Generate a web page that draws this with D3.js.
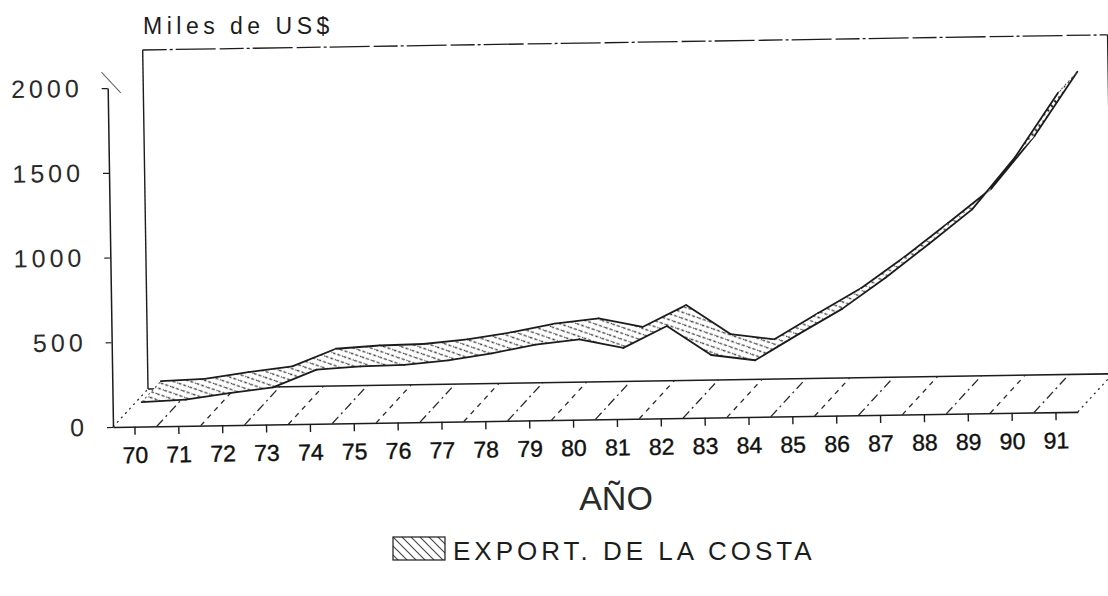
<!DOCTYPE html>
<html>
<head>
<meta charset="utf-8">
<script src="https://cdn.jsdelivr.net/npm/d3@7"></script>
<style>
  body { margin: 0; background: #fff; }
  svg { display: block; }
  text { font-family: "Liberation Sans", Arial, sans-serif; fill: #1c1c1c; }
</style>
</head>
<body>
<svg id="chart" width="1108" height="596"></svg>
<script>
var years = ["70", "71", "72", "73", "74", "75", "76", "77", "78", "79", "80",
             "81", "82", "83", "84", "85", "86", "87", "88", "89", "90", "91"];
var exportsCosta = [100, 110, 145, 175, 275, 290, 295, 318, 355, 403, 430,
                    375, 500, 325, 290, 440, 585, 765, 960, 1160, 1465, 1840];
var yTicks = [0, 500, 1000, 1500, 2000];
var yTitle = "Miles de US$";
var xTitle = "AÑO";
var seriesName = "EXPORT. DE LA COSTA";

var ink = "#1c1c1c";
var origin = { x: 113, y: 427 },
    depth = { x: 35.6, y: -37.5 },   // oblique offset of the back wall
    tilt = -0.9,                      // the whole plot is slightly turned
    ribbonFront = 0.2,
    ribbonBack = 0.75;

var svg = d3.select("#chart");
var defs = svg.append("defs");

// hatch for the ribbon top face
var pTop = defs.append("pattern")
    .attr("id", "hatchTop")
    .attr("patternUnits", "userSpaceOnUse")
    .attr("width", 8).attr("height", 8);
pTop.append("rect").attr("width", 8).attr("height", 8).attr("fill", "#fff");
pTop.append("path").attr("d", "M-1,-1L9,9M-1,7L1,9M7,-1L9,1")
    .attr("stroke", "#1a1a1a").attr("stroke-width", 1.8).attr("stroke-dasharray", "4,2");

// hatch for the underside (seen where the ribbon folds down)
var pUnder = defs.append("pattern")
    .attr("id", "hatchUnder")
    .attr("patternUnits", "userSpaceOnUse")
    .attr("width", 8).attr("height", 8)
    .attr("patternTransform", "rotate(-25)");
pUnder.append("rect").attr("width", 8).attr("height", 8).attr("fill", "#fff");
pUnder.append("path").attr("d", "M0,0L8,8")
    .attr("stroke", "#333").attr("stroke-width", 1.3).attr("stroke-dasharray", "3,2");

// legend hatch
var pLeg = defs.append("pattern")
    .attr("id", "hatchLegend")
    .attr("patternUnits", "userSpaceOnUse")
    .attr("width", 9).attr("height", 9);
pLeg.append("rect").attr("width", 9).attr("height", 9).attr("fill", "#fff");
pLeg.append("path").attr("d", "M-1,-1L10,10M-1,8L1,10M8,-1L10,1")
    .attr("stroke", "#444").attr("stroke-width", 1.1);

var x = d3.scaleBand().domain(years).range([origin.x, 1078]);
var y = d3.scaleLinear().domain([0, 2000]).range([origin.y, 88]);

function cx(yr) { return x(yr) + x.bandwidth() / 2; }
function px(yr, t) { return cx(yr) + t * depth.x; }
function py(v, t) { return y(v) + t * depth.y; }

var g = svg.append("g")
    .attr("transform", "rotate(" + tilt + "," + origin.x + "," + origin.y + ")");

var x0 = x.range()[0], x1 = x.range()[1];
var y0 = y(0);

// floor
var floor = g.append("g").attr("class", "floor");
floor.append("line")
    .attr("x1", x0 + depth.x).attr("y1", y0 + depth.y)
    .attr("x2", x1 + depth.x).attr("y2", y0 + depth.y)
    .attr("stroke", ink).attr("stroke-width", 1.6);
var bounds = years.map(function (d) { return x(d); }).concat([x1]);
floor.selectAll(".depthline")
    .data(bounds)
    .enter()
    .append("line")
    .attr("class", "depthline")
    .attr("x1", function (d) { return d; })
    .attr("y1", y0)
    .attr("x2", function (d) { return d + depth.x; })
    .attr("y2", y0 + depth.y)
    .attr("stroke", "#2a2a2a")
    .attr("stroke-width", 1.3)
    .attr("stroke-dasharray", function (d, i) {
        if (i === 0 || i === bounds.length - 1) return "2,4";
        return i % 2 ? "9,4,2,4" : "5,5";
    });

// back wall
var wall = g.append("g").attr("class", "wall");
var wTop = y(2000) + depth.y;
wall.append("line")
    .attr("x1", x0 + depth.x).attr("y1", y0 + depth.y)
    .attr("x2", x0 + depth.x).attr("y2", wTop)
    .attr("stroke", ink).attr("stroke-width", 1.4);
wall.append("line")
    .attr("x1", x0 + depth.x).attr("y1", wTop)
    .attr("x2", x1 + depth.x).attr("y2", wTop)
    .attr("stroke", ink).attr("stroke-width", 1.3)
    .attr("stroke-dasharray", "24,3,3,3,40,4");
wall.append("line")
    .attr("x1", x1 + depth.x).attr("y1", wTop)
    .attr("x2", x1 + depth.x).attr("y2", y0 + depth.y)
    .attr("stroke", ink).attr("stroke-width", 1.4);

// axes
var yAxis = d3.axisLeft(y).tickValues(yTicks).tickFormat(d3.format("d"))
    .tickSize(6).tickSizeOuter(0);
var yg = g.append("g")
    .attr("class", "y axis")
    .attr("transform", "translate(" + x0 + ",0)")
    .call(yAxis);
yg.select(".domain").attr("stroke", ink).attr("stroke-width", 1.5);
yg.selectAll(".tick line").attr("stroke", ink).attr("stroke-width", 1.2);
yg.selectAll(".tick text")
    .attr("x", -25)
    .style("font-size", "25px")
    .style("letter-spacing", "4px")
    .style("fill", "#2a2a2a");
yg.append("line")
    .attr("x1", -6).attr("y1", y(2000) - 16)
    .attr("x2", 13).attr("y2", y(2000) + 5)
    .attr("stroke", "#666").attr("stroke-width", 1);

var xAxis = d3.axisBottom(x).tickSize(8).tickSizeOuter(0);
var xg = g.append("g")
    .attr("class", "x axis")
    .attr("transform", "translate(0," + y0 + ")")
    .call(xAxis);
xg.select(".domain").attr("stroke", ink).attr("stroke-width", 1.6);
xg.selectAll(".tick line").attr("stroke", ink).attr("stroke-width", 1.4);
xg.selectAll(".tick text")
    .attr("y", 20)
    .style("font-size", "23px")
    .style("fill", "#111")
    .style("stroke", "#111")
    .style("stroke-width", "0.4px");

// ribbon
var ribbon = g.append("g").attr("class", "ribbon");
for (var i = 0; i < years.length - 1; i++) {
    var f0 = [px(years[i], ribbonFront), py(exportsCosta[i], ribbonFront)],
        f1 = [px(years[i + 1], ribbonFront), py(exportsCosta[i + 1], ribbonFront)],
        b1 = [px(years[i + 1], ribbonBack), py(exportsCosta[i + 1], ribbonBack)],
        b0 = [px(years[i], ribbonBack), py(exportsCosta[i], ribbonBack)];
    var area = d3.polygonArea([f0, f1, b1, b0]);
    ribbon.append("path")
        .attr("d", "M" + [f0, f1, b1, b0].join("L") + "Z")
        .attr("fill", area < 0 ? "url(#hatchTop)" : "url(#hatchUnder)")
        .attr("stroke", "none");
    ribbon.append("path")
        .attr("d", "M" + f0 + "L" + f1 + "M" + b0 + "L" + b1)
        .attr("fill", "none")
        .attr("stroke", ink)
        .attr("stroke-width", 1.8)
        .attr("stroke-linecap", "round");
}
var n = years.length - 1;
ribbon.append("path")
    .attr("d", "M" + [px(years[0], ribbonFront), py(exportsCosta[0], ribbonFront)] +
        "L" + [px(years[0], ribbonBack), py(exportsCosta[0], ribbonBack)] +
        "M" + [px(years[n], ribbonFront), py(exportsCosta[n], ribbonFront)] +
        "L" + [px(years[n], ribbonBack), py(exportsCosta[n], ribbonBack)])
    .attr("fill", "none")
    .attr("stroke", "#555")
    .attr("stroke-width", 1)
    .attr("stroke-dasharray", "2,3");

// titles
svg.append("text")
    .attr("x", 143).attr("y", 34)
    .style("font-size", "23px")
    .style("letter-spacing", "4.5px")
    .text(yTitle);

svg.append("text")
    .attr("x", 616).attr("y", 510)
    .attr("text-anchor", "middle")
    .style("font-size", "34px")
    .style("fill", "#2a2a2a")
    .text(xTitle);

// legend
svg.append("rect")
    .attr("x", 393).attr("y", 537)
    .attr("width", 52).attr("height", 23)
    .attr("fill", "url(#hatchLegend)")
    .attr("stroke", ink).attr("stroke-width", 1.2);
svg.append("text")
    .attr("x", 453).attr("y", 560)
    .style("font-size", "26px")
    .style("letter-spacing", "4px")
    .text(seriesName);
</script>
</body>
</html>
